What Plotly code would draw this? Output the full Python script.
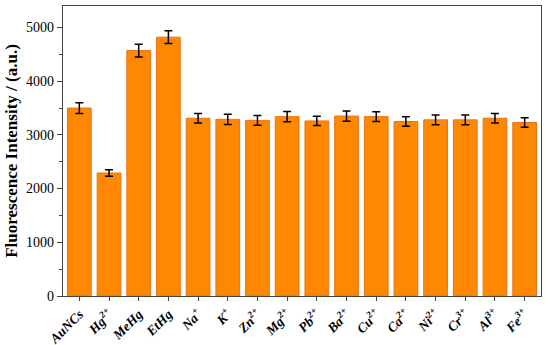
import plotly.graph_objects as go

categories = ["AuNCs", "Hg<sup>2+</sup>", "MeHg", "EtHg", "Na<sup>+</sup>", "K<sup>+</sup>",
              "Zn<sup>2+</sup>", "Mg<sup>2+</sup>", "Pb<sup>2+</sup>", "Ba<sup>2+</sup>",
              "Cu<sup>2+</sup>", "Ca<sup>2+</sup>", "Ni<sup>2+</sup>", "Cr<sup>3+</sup>",
              "Al<sup>3+</sup>", "Fe<sup>3+</sup>"]
values = [3500, 2290, 4570, 4820, 3310, 3290, 3270, 3340, 3260, 3350, 3340, 3250, 3280, 3280, 3310, 3230]
errors = [100, 60, 120, 120, 90, 95, 90, 95, 85, 95, 90, 90, 90, 90, 90, 90]
tick_labels = ["<b><i>%s</i></b>" % c for c in categories]

fig = go.Figure(go.Bar(
    x=list(range(len(categories))), y=values,
    marker=dict(color="#FF8800", line=dict(color="#E8741A", width=1)),
    width=0.8,
    error_y=dict(type="data", array=errors, color="black", thickness=1.5, width=4),
))
fig.update_layout(
    width=550, height=345,
    margin=dict(l=63, r=9, t=6, b=49),
    plot_bgcolor="white", paper_bgcolor="white",
    font=dict(family="Liberation Serif", color="black"),
    showlegend=False,
)
fig.update_xaxes(
    tickmode="array", tickvals=list(range(len(categories))), ticktext=tick_labels,
    tickangle=-45, tickfont=dict(size=13.5), range=[-0.55, 15.55], automargin=False,
    showline=True, linecolor="#444", linewidth=1.2, mirror=True,
    ticks="outside", ticklen=4, tickcolor="#444", showgrid=False,
)
fig.update_yaxes(
    range=[0, 5400], tickvals=[0, 1000, 2000, 3000, 4000, 5000], automargin=False,
    tickfont=dict(size=14, family="Liberation Serif"), tickprefix="<b>", ticksuffix="</b>",
    title=dict(text="<b>Fluorescence Intensity / (a.u.)</b>", font=dict(size=17), standoff=4),
    showline=True, linecolor="#444", linewidth=1.2, mirror=True,
    ticks="outside", ticklen=5, tickcolor="#444", showgrid=False, zeroline=False,
    minor=dict(dtick=500, ticks="outside", ticklen=3, tickcolor="#444"),
)
fig.write_html("out.html", config={"displayModeBar": False},
               post_script="document.body.style.margin='0';document.body.style.overflow='hidden';")
